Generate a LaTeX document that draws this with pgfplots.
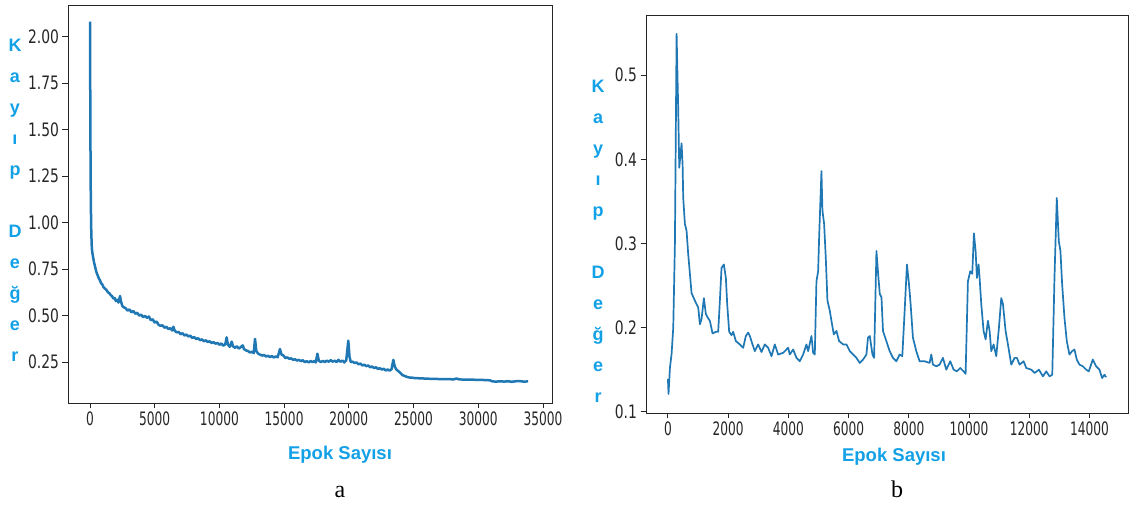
\documentclass[border=0pt]{standalone}
\usepackage{pgfplots}
\pgfplotsset{compat=1.18}
\usepackage{fontspec}
\usepackage{graphicx}
\newfontfamily\lsans{Liberation Sans}
\newfontfamily\djv{DejaVu Sans}
\newfontfamily\lserif{Liberation Serif}
\definecolor{lblue}{HTML}{12A0E6}
\definecolor{mplblue}{HTML}{1F77B4}
\pgfplotsset{
  myaxis/.style={
    scale only axis,
    axis line style={black!85, line width=0.9pt},
    tick align=outside, major tick length=5.5pt,
    tick style={black!85, line width=0.9pt},
    xtick pos=left, ytick pos=left,
    scaled ticks=false,
    /pgf/number format/assume math mode=true,
    /pgf/number format/1000 sep={},
    tick label style={font=\djv\fontsize{18.5}{18.5}\selectfont, text=black!85},
    every axis plot/.append style={line join=round, mplblue},
  }
}
\begin{document}
\begin{tikzpicture}
\useasboundingbox (0,0) rectangle (1129pt,508pt);
% ---------- panel a ----------
\begin{axis}[myaxis,
  at={(68pt,105pt)}, anchor=south west,
  width=484pt, height=398pt,
  xmin=-1700, xmax=35700, ymin=0.03, ymax=2.17,
  xtick={0,5000,10000,15000,20000,25000,30000,35000},
  ytick={0.25,0.5,0.75,1.0,1.25,1.5,1.75,2.0},
  xticklabel={\scalebox{0.66}[1]{\pgfmathprintnumber[fixed,precision=0]{\tick}}},
  yticklabel={\scalebox{0.75}[1]{\pgfmathprintnumber[fixed,fixed zerofill,precision=2]{\tick}}},
]
\addplot[line width=2.5pt] coordinates {
(0,2.08)(20,1.70)(40,1.36)(60,1.15)(80,1.03)(100,0.95)(130,0.88)(160,0.85)(200,0.83)(250,0.81)
(300,0.79)(350,0.775)(420,0.755)(470,0.74)(540,0.725)(600,0.715)(680,0.70)(770,0.69)(850,0.675)(950,0.668)
(1050,0.652)(1160,0.645)(1270,0.638)(1390,0.625)(1500,0.62)(1600,0.61)(1700,0.605)(1800,0.592)(1900,0.595)(2000,0.578)
(2100,0.585)(2200,0.57)(2320,0.605)(2400,0.575)(2500,0.552)(2600,0.545)(2750,0.54)(2900,0.527)(3050,0.533)(3200,0.518)
(3350,0.525)(3500,0.51)(3650,0.515)(3800,0.50)(3950,0.505)(4100,0.492)(4250,0.498)(4400,0.488)(4550,0.495)(4700,0.475)
(4850,0.48)(5000,0.462)(5150,0.468)(5300,0.45)(5450,0.445)(5600,0.448)(5750,0.435)(5900,0.44)(6050,0.428)(6200,0.432)
(6350,0.42)(6440,0.44)(6550,0.418)(6700,0.41)(6850,0.412)(7000,0.40)(7150,0.405)(7300,0.393)(7450,0.398)(7600,0.388)
(7750,0.392)(7900,0.38)(8050,0.385)(8200,0.374)(8350,0.378)(8500,0.368)(8650,0.372)(8800,0.362)(8950,0.367)(9100,0.358)
(9250,0.362)(9400,0.352)(9550,0.357)(9700,0.349)(9850,0.353)(10000,0.343)(10150,0.35)(10300,0.338)(10450,0.345)(10560,0.383)
(10650,0.345)(10800,0.332)(10950,0.36)(11050,0.335)(11200,0.327)(11350,0.335)(11500,0.323)(11650,0.33)(11800,0.34)(11900,0.32)
(12050,0.313)(12200,0.31)(12350,0.302)(12500,0.305)(12650,0.298)(12750,0.375)(12850,0.31)(13000,0.295)(13150,0.29)(13300,0.285)
(13450,0.288)(13600,0.28)(13750,0.284)(13900,0.277)(14050,0.282)(14200,0.275)(14350,0.28)(14500,0.276)(14680,0.32)(14800,0.29)
(14950,0.285)(15100,0.272)(15250,0.275)(15400,0.268)(15550,0.27)(15700,0.262)(15850,0.265)(16000,0.258)(16150,0.262)(16300,0.255)
(16450,0.26)(16600,0.25)(16750,0.255)(16900,0.248)(17050,0.256)(17200,0.25)(17350,0.256)(17450,0.248)(17570,0.295)(17680,0.258)
(17830,0.25)(18000,0.256)(18150,0.25)(18300,0.258)(18450,0.252)(18600,0.26)(18750,0.252)(18900,0.258)(19050,0.25)(19200,0.262)
(19350,0.252)(19500,0.258)(19650,0.248)(19800,0.26)(19960,0.365)(20050,0.28)(20150,0.25)(20300,0.252)(20450,0.245)(20600,0.248)
(20750,0.238)(20900,0.242)(21050,0.232)(21200,0.236)(21350,0.228)(21500,0.232)(21650,0.222)(21800,0.226)(21950,0.218)(22100,0.222)
(22250,0.213)(22400,0.217)(22550,0.21)(22700,0.214)(22850,0.205)(23000,0.21)(23150,0.204)(23300,0.212)(23440,0.262)(23550,0.225)
(23700,0.208)(23850,0.2)(24000,0.19)(24150,0.18)(24300,0.176)(24500,0.17)(24700,0.167)(24900,0.166)(25100,0.164)(25400,0.163)
(25700,0.162)(26000,0.161)(26300,0.16)(26600,0.16)(26900,0.159)(27200,0.159)(27500,0.158)(27800,0.158)(28100,0.157)(28330,0.162)
(28500,0.157)(28800,0.156)(29100,0.156)(29400,0.155)(29700,0.155)(30000,0.154)(30300,0.154)(30600,0.153)(30900,0.152)(31100,0.146)
(31400,0.145)(31700,0.147)(32000,0.145)(32300,0.147)(32600,0.144)(32900,0.147)(33200,0.148)(33500,0.145)(33850,0.146)
};
\end{axis}
% ---------- panel b ----------
\begin{axis}[myaxis,
  at={(646pt,95pt)}, anchor=south west,
  width=482pt, height=398pt,
  xmin=-728, xmax=15278, ymin=0.0985, ymax=0.5715,
  xtick={0,2000,4000,6000,8000,10000,12000,14000},
  ytick={0.1,0.2,0.3,0.4,0.5},
  xticklabel={\scalebox{0.66}[1]{\pgfmathprintnumber[fixed,precision=0]{\tick}}},
  yticklabel={\scalebox{0.75}[1]{\pgfmathprintnumber[fixed,fixed zerofill,precision=1]{\tick}}},
]
\addplot[line width=1.7pt] coordinates {
(0,0.139)(20,0.121)(66,0.152)(122,0.169)(177,0.20)(232,0.30)(288,0.549)(343,0.457)(376,0.39)(453,0.419)
(487,0.394)(508,0.354)(564,0.323)(619,0.315)(674,0.287)(730,0.264)(785,0.241)(895,0.232)(1006,0.224)(1061,0.204)
(1116,0.21)(1194,0.235)(1260,0.216)(1337,0.211)(1393,0.208)(1482,0.193)(1592,0.195)(1669,0.195)(1725,0.232)(1780,0.271)
(1857,0.275)(1924,0.259)(1968,0.228)(2034,0.195)(2111,0.191)(2167,0.195)(2255,0.184)(2388,0.180)(2499,0.176)(2587,0.190)
(2664,0.194)(2720,0.190)(2809,0.180)(2886,0.172)(2996,0.180)(3107,0.171)(3217,0.180)(3328,0.176)(3439,0.166)(3549,0.180)
(3660,0.168)(3826,0.170)(3992,0.176)(4047,0.168)(4158,0.174)(4269,0.164)(4379,0.160)(4490,0.168)(4600,0.180)(4656,0.172)
(4766,0.190)(4822,0.170)(4877,0.168)(4932,0.255)(4988,0.267)(5021,0.307)(5098,0.386)(5131,0.339)(5187,0.323)(5242,0.283)
(5297,0.232)(5375,0.22)(5430,0.208)(5508,0.192)(5596,0.196)(5685,0.184)(5818,0.180)(5928,0.180)(6039,0.172)(6150,0.168)
(6260,0.164)(6371,0.158)(6481,0.162)(6592,0.168)(6642,0.188)(6703,0.190)(6791,0.168)(6847,0.164)(6924,0.291)(6980,0.264)
(7035,0.240)(7091,0.236)(7142,0.196)(7253,0.184)(7363,0.172)(7474,0.164)(7584,0.160)(7695,0.168)(7783,0.166)(7861,0.22)
(7937,0.275)(8004,0.252)(8059,0.228)(8136,0.188)(8247,0.172)(8358,0.160)(8524,0.160)(8690,0.158)(8745,0.168)(8800,0.156)
(8911,0.154)(9022,0.156)(9132,0.164)(9243,0.150)(9376,0.160)(9487,0.150)(9597,0.148)(9708,0.152)(9819,0.148)(9885,0.145)
(9962,0.255)(10040,0.267)(10106,0.264)(10161,0.312)(10217,0.291)(10261,0.259)(10316,0.275)(10350,0.259)(10405,0.228)(10482,0.196)
(10549,0.186)(10627,0.208)(10682,0.196)(10737,0.172)(10815,0.180)(10903,0.166)(10992,0.200)(11069,0.235)(11125,0.228)(11213,0.196)
(11291,0.180)(11401,0.156)(11512,0.164)(11589,0.164)(11678,0.156)(11811,0.160)(11899,0.152)(12065,0.150)(12176,0.146)(12320,0.150)
(12453,0.142)(12563,0.148)(12674,0.142)(12763,0.144)(12836,0.259)(12913,0.354)(12979,0.303)(13034,0.291)(13090,0.252)(13167,0.212)
(13245,0.184)(13333,0.168)(13422,0.172)(13499,0.174)(13577,0.162)(13665,0.156)(13776,0.154)(13887,0.150)(13976,0.148)(14108,0.162)
(14219,0.154)(14330,0.150)(14418,0.140)(14496,0.144)(14551,0.141)
};
\end{axis}
% ---------- axis labels ----------
\node[anchor=base, align=center, text=lblue, font=\lsans\bfseries\fontsize{18}{31}\selectfont]
  at (15pt,146pt) {K\\a\\y\\ı\\p\\[31pt]D\\e\\ğ\\e\\r};
\node[anchor=base, align=center, text=lblue, font=\lsans\bfseries\fontsize{18}{31}\selectfont]
  at (598pt,105pt) {K\\a\\y\\ı\\p\\[31pt]D\\e\\ğ\\e\\r};
\node[anchor=base, text=lblue, font=\lsans\bfseries\fontsize{18.5}{20}\selectfont] at (340pt,48pt) {Epok Sayısı};
\node[anchor=base, text=lblue, font=\lsans\bfseries\fontsize{18.5}{20}\selectfont] at (894pt,46pt) {Epok Sayısı};
% ---------- captions ----------
\node[anchor=base, font=\lserif\fontsize{24}{26}\selectfont] at (340pt,10pt) {a};
\node[anchor=base, font=\lserif\fontsize{24}{26}\selectfont] at (897pt,10pt) {b};
\end{tikzpicture}
\end{document}
